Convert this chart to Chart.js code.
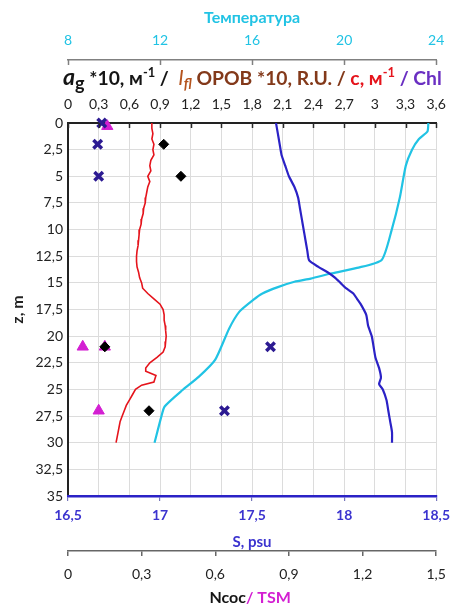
<!DOCTYPE html>
<html>
<head>
<meta charset="utf-8">
<script src="https://cdn.jsdelivr.net/npm/chart.js@4.4.1/dist/chart.umd.min.js"></script>
<style>
  html, body { margin: 0; padding: 0; background: #ffffff; }
  canvas { display: block; }
</style>
</head>
<body>
<canvas id="profile" width="456" height="607"></canvas>
<script>
// ---- tick labels ----
const depthTicks = [0, 2.5, 5, 7.5, 10, 12.5, 15, 17.5, 20, 22.5, 25, 27.5, 30, 32.5, 35];
const attenTicks = [0, 0.3, 0.6, 0.9, 1.2, 1.5, 1.8, 2.1, 2.4, 2.7, 3, 3.3, 3.6];
const tempTicks = [8, 12, 16, 20, 24];
const salTicks = [16.5, 17, 17.5, 18, 18.5];
const ncocTicks = [0, 0.3, 0.6, 0.9, 1.2, 1.5];

// ---- beam attenuation c, m^-1 ----
const cDepth = [0, 0.5, 1, 1.5, 2, 2.5, 3, 3.5, 4, 4.5, 5, 5.5, 6, 6.5, 7, 7.5, 8, 8.5, 9, 9.5,
  10, 10.5, 11, 11.5, 12, 12.5, 13, 13.5, 14, 14.5, 15, 15.5, 16, 16.5, 17, 17.5, 18, 18.5, 19, 19.5,
  20, 20.5, 21, 21.5, 22, 22.5, 23, 23.3, 23.7, 24.3, 24.6, 25, 25.5, 26, 26.5, 27, 27.5, 28, 28.5, 29, 29.5, 30];
const cValue = [0.82, 0.82, 0.83, 0.82, 0.84, 0.83, 0.84, 0.81, 0.80, 0.81, 0.78, 0.80, 0.78, 0.77, 0.76, 0.755, 0.74, 0.735, 0.72, 0.715,
  0.70, 0.695, 0.69, 0.685, 0.675, 0.67, 0.67, 0.675, 0.69, 0.70, 0.72, 0.73, 0.78, 0.84, 0.90, 0.93, 0.94, 0.94, 0.95, 0.955,
  0.96, 0.955, 0.95, 0.93, 0.87, 0.80, 0.76, 0.76, 0.86, 0.84, 0.72, 0.66, 0.63, 0.60, 0.57, 0.55, 0.53, 0.51, 0.50, 0.49, 0.48, 0.47];

// ---- salinity, psu ----
const sDepth = [0, 1, 2, 3, 4, 5, 6, 7, 8, 9, 10, 11, 12, 12.9, 13.5, 14, 14.5, 15, 15.5, 16, 16.5, 17,
  18, 19, 20, 21, 22, 23, 23.9, 24.5, 25, 26, 27, 28, 29, 30];
const sValue = [17.63, 17.64, 17.65, 17.66, 17.68, 17.70, 17.73, 17.75, 17.76, 17.77, 17.78, 17.79, 17.80, 17.81, 17.86, 17.91, 17.95, 17.98, 18.01, 18.05, 18.07, 18.09,
  18.12, 18.13, 18.15, 18.16, 18.17, 18.19, 18.20, 18.19, 18.21, 18.23, 18.24, 18.25, 18.26, 18.26];

// ---- temperature ----
const tDepth = [0, 0.8, 1.5, 2.5, 4, 7, 10, 12.85, 13.6, 14.1, 14.6, 14.9, 15.4, 16, 16.6, 17.7, 19.3, 22.2, 23.8, 25.05, 26.6, 27.6, 30];
const tValue = [23.66, 23.62, 23.25, 22.95, 22.68, 22.42, 22.07, 21.63, 20.56, 19.48, 18.55, 17.84, 17.12, 16.45, 16.05, 15.45, 15.0, 14.4, 13.69, 12.98, 12.2, 12.05, 11.76];

// ---- discrete samples ----
const chlDepth = [0, 2, 5, 21, 27];
const chlValue = [0.33, 0.29, 0.30, 1.98, 1.53];
const ncocDepth = [2, 5, 21, 27];
const ncocValue = [0.39, 0.46, 0.15, 0.33];
const tsmDepth = [0.3, 21, 21, 27];
const tsmValue = [0.16, 0.06, 0.15, 0.125];

const FONT = 'Lato, "Open Sans", sans-serif';
const CYAN = '#21c3e4';
const SAL_BLUE = '#2b22c6';
const SAL_TEXT = '#3b33cf';
const RED = '#e5141c';
const CHL = '#2c1a92';
const TSM = '#d31fd2';
const GRID = '#dcdcdc';

const pairs = (zs, vs) => zs.map((z, i) => ({ x: vs[i], y: z }));
const comma = v => String(Number(Number(v).toFixed(2))).replace('.', ',');
const fixTicks = arr => scale => { scale.ticks = arr.map(v => ({ value: v })); };
const fixSize = (prop, px) => scale => { scale[prop] = px; };

// Multi-coloured axis captions and inward tick marks on the top axes
function drawPieces(ctx, pieces, x, baseline, k, align) {
  let total = 0;
  pieces.forEach(p => {
    ctx.font = `${p.style || ''} ${p.size * k}px ${FONT}`;
    p.w = ctx.measureText(p.text).width;
    total += p.w;
  });
  let cx = align === 'center' ? x - total / 2 : x;
  pieces.forEach(p => {
    ctx.font = `${p.style || ''} ${p.size * k}px ${FONT}`;
    ctx.fillStyle = p.color;
    ctx.fillText(p.text, cx, baseline + (p.dy || 0) * k);
    cx += p.w;
  });
  return total;
}

const captions = {
  id: 'captions',
  afterDraw(chart) {
    const { ctx, scales } = chart;
    const { xT, xC, xN } = scales;
    ctx.save();
    ctx.textBaseline = 'alphabetic';
    ctx.textAlign = 'left';

    // tick marks pointing down from the top axis lines
    ctx.lineWidth = 1.5;
    ctx.strokeStyle = '#808080';
    xT.ticks.forEach(t => {
      const px = Math.round(xT.getPixelForValue(t.value)) + 0.5;
      ctx.beginPath(); ctx.moveTo(px, xT.bottom); ctx.lineTo(px, xT.bottom + 5); ctx.stroke();
    });
    ctx.strokeStyle = '#2a2a2a';
    xC.ticks.forEach(t => {
      const px = Math.round(xC.getPixelForValue(t.value)) + 0.5;
      ctx.beginPath(); ctx.moveTo(px, xC.bottom); ctx.lineTo(px, xC.bottom + 5); ctx.stroke();
    });

    // top caption: a_g *10, m^-1 / I_fl OROV *10, R.U. / c, m^-1 / Chl
    const top = [
      { text: 'a', size: 18, style: 'italic bold', color: '#151515' },
      { text: 'g', size: 14, style: 'bold', color: '#151515', dy: 4 },
      { text: ' *10, м', size: 15, style: 'bold', color: '#151515' },
      { text: '-1', size: 10, style: 'bold', color: '#151515', dy: -6 },
      { text: ' /  ', size: 15, style: 'bold', color: '#151515' },
      { text: 'I', size: 16, style: 'italic', color: '#b4531d' },
      { text: 'fl', size: 11, style: 'italic bold', color: '#b4531d', dy: 3 },
      { text: ' ОРОВ *10, R.U. / ', size: 15, style: 'bold', color: '#83391a' },
      { text: 'c, м', size: 15, style: 'bold', color: RED },
      { text: '-1', size: 10, style: 'bold', color: RED, dy: -6 },
      { text: ' / Chl', size: 15, style: 'bold', color: '#6a2fc2' }
    ];
    const startX = 63, endX = 442;
    const w1 = drawPieces(ctx, top.map(p => ({ ...p })), -9999, -9999, 1, 'left');
    const k = (endX - startX) / w1;
    drawPieces(ctx, top, startX, xC.top + 25, k, 'left');

    // bottom caption: Ncoc / TSM
    const bottom = [
      { text: 'Ncoc', size: 16, style: 'bold', color: '#151515' },
      { text: '/ TSM', size: 16, style: 'bold', color: TSM }
    ];
    drawPieces(ctx, bottom, (xN.left + xN.right) / 2 - 2, xN.bottom - 4, 1, 'center');
    ctx.restore();
  }
};

Chart.defaults.font.family = FONT;
Chart.defaults.font.size = 14;
Chart.defaults.color = '#222';

new Chart(document.getElementById('profile'), {
  type: 'scatter',
  data: {
    datasets: [
      { label: 'Chl', data: pairs(chlDepth, chlValue), xAxisID: 'xC', yAxisID: 'y', order: 0,
        pointStyle: 'crossRot', pointRadius: 6, borderWidth: 3.5, borderColor: CHL, backgroundColor: CHL, clip: false },
      { label: 'Ncoc', data: pairs(ncocDepth, ncocValue), xAxisID: 'xN', yAxisID: 'y', order: 1,
        pointStyle: 'rectRot', pointRadius: 5, borderWidth: 1, borderColor: '#000', backgroundColor: '#000', clip: false },
      { label: 'TSM', data: pairs(tsmDepth, tsmValue), xAxisID: 'xN', yAxisID: 'y', order: 2,
        pointStyle: 'triangle', pointRadius: 6.5, borderWidth: 1, borderColor: TSM, backgroundColor: TSM, clip: false },
      { label: 'c', data: pairs(cDepth, cValue), xAxisID: 'xC', yAxisID: 'y', order: 3,
        showLine: true, pointRadius: 0, borderColor: RED, borderWidth: 1.6, tension: 0 },
      { label: 'S', data: pairs(sDepth, sValue), xAxisID: 'xS', yAxisID: 'y', order: 4,
        showLine: true, pointRadius: 0, borderColor: SAL_BLUE, borderWidth: 2.2, tension: 0.2 },
      { label: 'T', data: pairs(tDepth, tValue), xAxisID: 'xT', yAxisID: 'y', order: 5,
        showLine: true, pointRadius: 0, borderColor: CYAN, borderWidth: 2.2, tension: 0.2 }
    ]
  },
  options: {
    responsive: false,
    animation: false,
    events: [],
    layout: { padding: { left: 0, right: 15, top: 0, bottom: 0 } },
    plugins: { legend: { display: false }, tooltip: { enabled: false } },
    scales: {
      y: {
        type: 'linear', position: 'left', reverse: true, min: 0, max: 35,
        afterBuildTicks: fixTicks(depthTicks),
        afterFit: fixSize('width', 68),
        ticks: { padding: 5, callback: v => comma(v), font: { size: 14 } },
        grid: { color: GRID, lineWidth: 1, drawTicks: false },
        border: { display: true, color: '#222', width: 2 },
        title: { display: true, text: 'z, m', font: { size: 16, weight: 'bold' }, padding: { top: 8, bottom: 0 } }
      },
      xT: {
        type: 'linear', position: 'top', min: 8, max: 24, weight: 2,
        afterBuildTicks: fixTicks(tempTicks),
        afterFit: fixSize('height', 60),
        ticks: { color: CYAN, padding: 11, callback: v => comma(v), font: { size: 14 } },
        grid: { display: false, drawOnChartArea: false, drawTicks: false },
        border: { display: true, color: '#808080', width: 1.5 },
        title: { display: true, text: 'Температура', color: CYAN, font: { size: 16, weight: 'bold' }, padding: { top: 8, bottom: 0 } }
      },
      xC: {
        type: 'linear', position: 'top', min: 0, max: 3.6, weight: 1,
        afterBuildTicks: fixTicks(attenTicks),
        afterFit: fixSize('height', 63),
        ticks: { padding: 10, callback: v => comma(v), font: { size: 14 } },
        grid: { color: GRID, lineWidth: 1, drawTicks: false },
        border: { display: true, color: '#222', width: 2 }
      },
      xS: {
        type: 'linear', position: 'bottom', min: 16.5, max: 18.5, weight: 1,
        afterBuildTicks: fixTicks(salTicks),
        afterFit: fixSize('height', 55),
        ticks: { color: SAL_TEXT, padding: 6, callback: v => comma(v), font: { size: 14, weight: 'bold' } },
        grid: { drawOnChartArea: false, tickLength: 5, color: '#7777bb', lineWidth: 1.2 },
        border: { display: true, color: SAL_BLUE, width: 2.5 },
        title: { display: true, text: 'S, psu', color: SAL_TEXT, font: { size: 15, weight: 'bold' }, padding: { top: 0, bottom: 0 } }
      },
      xN: {
        type: 'linear', position: 'bottom', min: 0, max: 1.5, weight: 2,
        afterBuildTicks: fixTicks(ncocTicks),
        afterFit: fixSize('height', 56),
        ticks: { padding: 10, callback: v => comma(v), font: { size: 14 } },
        grid: { drawOnChartArea: false, tickLength: 5, color: '#666', lineWidth: 1.5 },
        border: { display: true, color: '#666', width: 1.5 }
      }
    }
  },
  plugins: [captions]
});
</script>
</body>
</html>
